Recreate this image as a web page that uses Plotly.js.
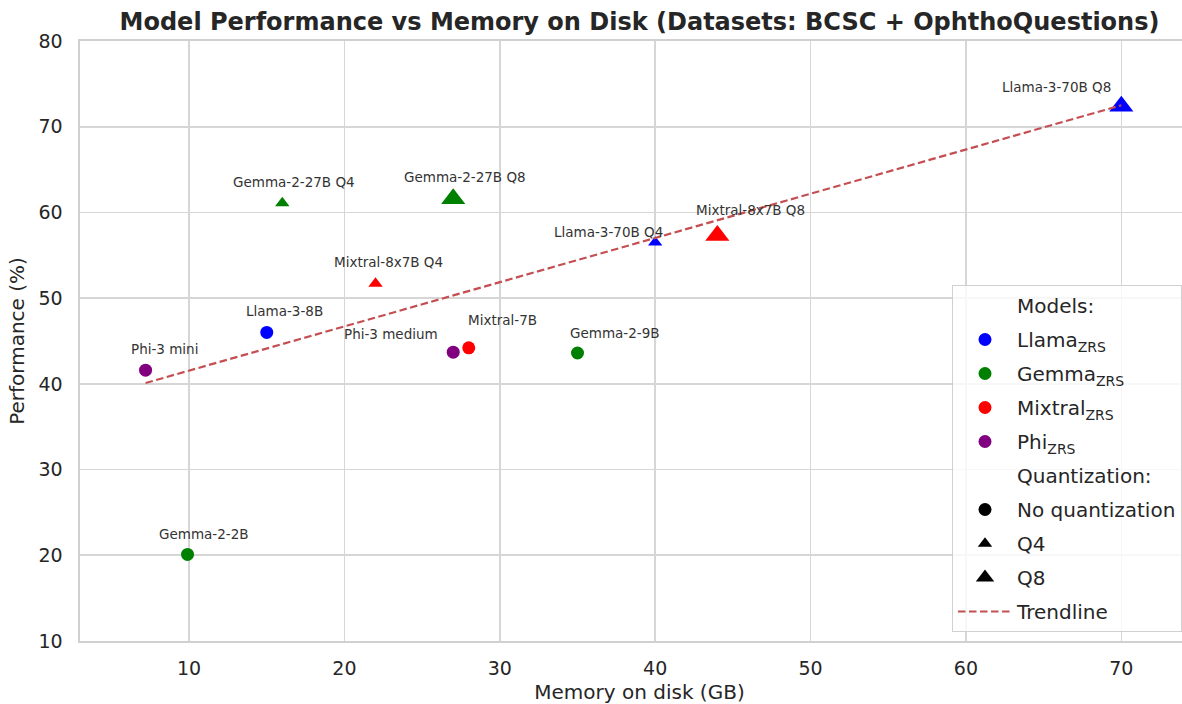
<!DOCTYPE html>
<html>
<head>
<meta charset="utf-8">
<script src="https://cdn.plot.ly/plotly-3.0.1.min.js"></script>
<style>
html, body { margin: 0; padding: 0; overflow: hidden; background: #fff; }
#chart { width: 1199px; height: 704px; }
</style>
</head>
<body>
<div id="chart"></div>
<script>
// ---- data ----
const models = ['Phi-3 mini', 'Gemma-2-2B', 'Llama-3-8B', 'Gemma-2-27B Q4', 'Mixtral-8x7B Q4', 'Gemma-2-27B Q8',
                'Phi-3 medium', 'Mixtral-7B', 'Gemma-2-9B', 'Llama-3-70B Q4', 'Mixtral-8x7B Q8', 'Llama-3-70B Q8'];
const family = ['Phi', 'Gemma', 'Llama', 'Gemma', 'Mixtral', 'Gemma', 'Phi', 'Mixtral', 'Gemma', 'Llama', 'Mixtral', 'Llama'];
const quant = ['None', 'None', 'None', 'Q4', 'Q4', 'Q8', 'None', 'None', 'None', 'Q4', 'Q8', 'Q8'];
const memoryGB = [7.2, 9.9, 15.0, 16.0, 22.0, 27.0, 27.0, 28.0, 35.0, 40.0, 44.0, 70.0];
const performance = [41.6, 20.1, 46.0, 61.1, 51.7, 61.6, 43.7, 44.2, 43.6, 56.5, 57.3, 72.4];
const trendX = [7.2, 70.0];
const trendY = [40.1, 72.5];
const familyOrder = ['Llama', 'Gemma', 'Mixtral', 'Phi'];
const quantOrder = ['None', 'Q4', 'Q8'];
const quantLabels = ['No quantization', 'Q4', 'Q8'];
const xTicks = [10, 20, 30, 40, 50, 60, 70];
const yTicks = [10, 20, 30, 40, 50, 60, 70, 80];

// ---- styles ----
const familyColor = {Llama: '#0000ff', Gemma: '#008000', Mixtral: '#ff0000', Phi: '#800080'};
const quantSymbol = {None: 'circle', Q4: 'triangle-up', Q8: 'triangle-up'};
const quantSize = {None: 13, Q4: 12.5, Q8: 21};
// label offsets in pixels (dx right, dy down) relative to each point
const labelDx = [19, 16, 18, 12, 12.5, 11.5, -62, 34, 37, -47, 33, -65];
const labelDy = [-21, -20, -21, -21, -21.5, -22, -18, -28, -20.5, -10, -25.5, -19];

const FONT = 'DejaVu Sans, Verdana, sans-serif';
const TXT = '#262626';

const traces = [];
familyOrder.forEach(f => {
  quantOrder.forEach(q => {
    const idx = models.map((_, i) => i).filter(i => family[i] === f && quant[i] === q);
    if (!idx.length) return;
    traces.push({
      type: 'scatter', mode: 'markers',
      x: idx.map(i => memoryGB[i]), y: idx.map(i => performance[i]),
      text: idx.map(i => models[i]),
      marker: {color: familyColor[f], symbol: quantSymbol[q], size: quantSize[q], line: {width: 0}},
      showlegend: false, hoverinfo: 'text+x+y'
    });
  });
});

// legend entries (each in its own group so that tracegroupgap spaces them)
let rank = 1;
traces.push({type: 'scatter', mode: 'markers', x: [null], y: [null], name: 'Models:', legendgroup: 'g' + rank,
  marker: {color: 'rgba(0,0,0,0)', size: 1}, showlegend: true, legendrank: rank++});
familyOrder.forEach(f => {
  traces.push({type: 'scatter', mode: 'markers', x: [null], y: [null], name: f + '<sub>ZRS</sub>', legendgroup: 'g' + rank,
    marker: {color: familyColor[f], symbol: 'circle', size: 13}, showlegend: true, legendrank: rank++});
});
traces.push({type: 'scatter', mode: 'markers', x: [null], y: [null], name: 'Quantization:', legendgroup: 'g' + rank,
  marker: {color: 'rgba(0,0,0,0)', size: 1}, showlegend: true, legendrank: rank++});
quantOrder.forEach((q, k) => {
  traces.push({type: 'scatter', mode: 'markers', x: [null], y: [null], name: quantLabels[k], legendgroup: 'g' + rank,
    marker: {color: '#000000', symbol: quantSymbol[q], size: quantSize[q]},
    showlegend: true, legendrank: rank++});
});
traces.push({type: 'scatter', mode: 'lines', x: trendX, y: trendY, name: 'Trendline', legendgroup: 'g' + rank,
  line: {color: '#c44e52', width: 2.2, dash: '7.5px,3.5px'}, showlegend: true, legendrank: rank++, hoverinfo: 'skip'});

const annotations = models.map((m, i) => ({
  x: memoryGB[i], y: performance[i], xref: 'x', yref: 'y', text: m, showarrow: false,
  xanchor: 'center', yanchor: 'middle', xshift: labelDx[i], yshift: -labelDy[i],
  font: {family: FONT, size: 13.5, color: '#333333'}
}));

const layout = {
  width: 1199, height: 704,
  margin: {l: 80, r: 0, t: 41, b: 63},
  paper_bgcolor: '#ffffff', plot_bgcolor: '#ffffff',
  font: {family: FONT, color: TXT},
  title: {text: '<b>Model Performance vs Memory on Disk (Datasets: BCSC + OphthoQuestions)</b>',
    font: {family: FONT, size: 24, color: TXT}, x: 0.5, xref: 'paper', y: 1 - 22 / 704, yref: 'container', yanchor: 'middle'},
  xaxis: {
    range: [2.98, 75.0], tickvals: xTicks, ticktext: xTicks.map(String),
    showgrid: true, gridcolor: '#d6d6d6', gridwidth: 1.6,
    showline: true, mirror: true, linecolor: '#d0d0d0', linewidth: 1.6,
    zeroline: false, ticks: '', ticklabelstandoff: 10,
    tickfont: {family: FONT, size: 19, color: TXT},
    title: {text: 'Memory on disk (GB)', font: {family: FONT, size: 20, color: TXT}, standoff: 9}
  },
  yaxis: {
    range: [10, 80], tickvals: yTicks, ticktext: yTicks.map(String),
    showgrid: true, gridcolor: '#d6d6d6', gridwidth: 1.6,
    showline: true, mirror: true, linecolor: '#d0d0d0', linewidth: 1.6,
    zeroline: false, ticks: '', ticklabelstandoff: 12,
    tickfont: {family: FONT, size: 19, color: TXT},
    title: {text: 'Performance (%)', font: {family: FONT, size: 20, color: TXT}, standoff: 8}
  },
  legend: {
    x: (952 - 80) / 1119, xanchor: 'left', y: (641 - 632) / 600, yanchor: 'bottom',
    bgcolor: 'rgba(255,255,255,0.8)', bordercolor: '#d0d0d0', borderwidth: 1,
    font: {family: FONT, size: 20, color: TXT}, itemwidth: 54, itemsizing: 'trace',
    traceorder: 'grouped', tracegroupgap: 5
  },
  annotations: annotations,
  showlegend: true
};

Plotly.newPlot('chart', traces, layout, {displayModeBar: false, staticPlot: true});
</script>
</body>
</html>
